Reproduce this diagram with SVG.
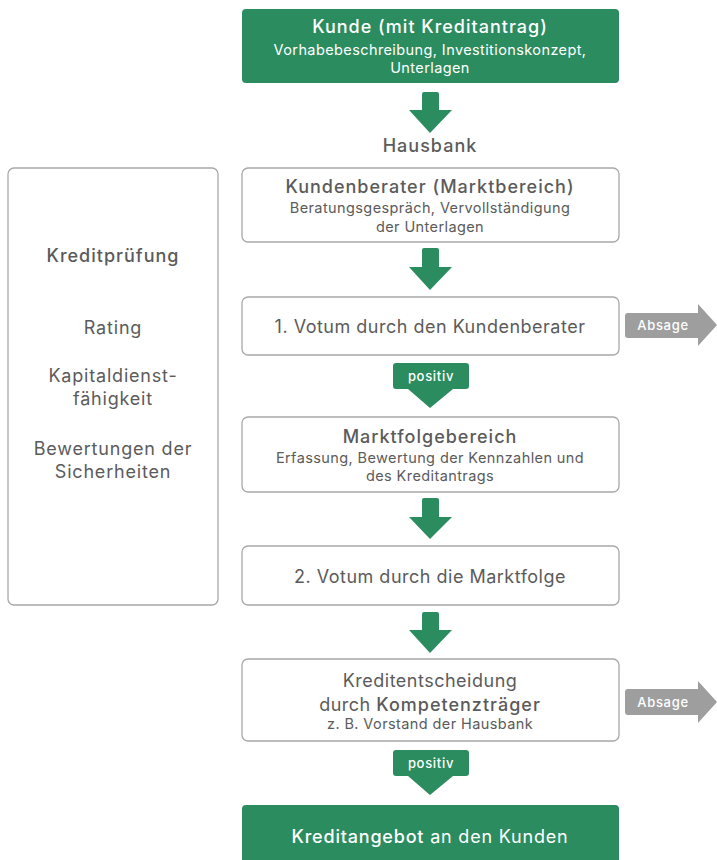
<svg xmlns="http://www.w3.org/2000/svg" width="717" height="860" viewBox="0 0 717 860">
<defs>
<style>
text{font-family:Inter,"Liberation Sans",sans-serif;text-anchor:middle;fill:#5b5b5b}
.box{fill:#fff;stroke:#a8a8a8;stroke-width:1.3}
.gbox{fill:#2b8c5f}
.arr{fill:#2b8c5f}
.abs{fill:#9e9e9e}
.h{font-size:18px;font-weight:500;letter-spacing:1px}
.s{font-size:14.5px;letter-spacing:0.4px}
.m{font-size:18px;letter-spacing:0.5px}
.l{font-size:18px;letter-spacing:0.8px}
.w{fill:#fff}
.lbl{font-size:13px;font-weight:500;fill:#fff;letter-spacing:0.7px}
</style>
</defs>
<g id="kunde">
<rect class="gbox" x="242" y="9" width="377" height="74" rx="4"/>
<text class="h w" x="430" y="33">Kunde (mit Kreditantrag)</text>
<text class="s w" x="430" y="55">Vorhabebeschreibung, Investitionskonzept,</text>
<text class="s w" x="430" y="73">Unterlagen</text>
</g>
<g id="hausbank">
<text class="h" x="430" y="152">Hausbank</text>
</g>
<g id="kreditpruefung">
<rect class="box" x="8" y="168" width="210" height="437" rx="6"/>
<text class="h" x="113" y="262">Kreditprüfung</text>
<text class="l" x="113" y="334">Rating</text>
<text class="l" x="113" y="382">Kapitaldienst-</text>
<text class="l" x="113" y="405">fähigkeit</text>
<text class="l" x="113" y="455">Bewertungen der</text>
<text class="l" x="113" y="478">Sicherheiten</text>
</g>
<g id="kundenberater">
<rect class="box" x="242" y="168" width="377" height="74" rx="6"/>
<text class="h" x="430" y="193">Kundenberater (Marktbereich)</text>
<text class="s" x="430" y="213">Beratungsgespräch, Vervollständigung</text>
<text class="s" x="430" y="232">der Unterlagen</text>
</g>
<g id="votum1">
<rect class="box" x="242" y="297" width="377" height="58" rx="6"/>
<text class="m" x="430" y="333">1. Votum durch den Kundenberater</text>
</g>
<g id="absage1">
<path class="abs" d="M628,313 H698 V304 L717,325 L698,346 V338 H628 Q625,338 625,335 V316 Q625,313 628,313 Z"/>
<text class="lbl" x="663" y="330">Absage</text>
</g>
<g id="marktfolge">
<rect class="box" x="242" y="417" width="377" height="75" rx="6"/>
<text class="h" x="430" y="443">Marktfolgebereich</text>
<text class="s" x="430" y="463">Erfassung, Bewertung der Kennzahlen und</text>
<text class="s" x="430" y="481">des Kreditantrags</text>
</g>
<g id="votum2">
<rect class="box" x="242" y="546" width="377" height="59" rx="6"/>
<text class="m" x="430" y="583">2. Votum durch die Marktfolge</text>
</g>
<g id="entscheidung">
<rect class="box" x="242" y="659" width="377" height="82" rx="6"/>
<text class="m" x="430" y="687">Kreditentscheidung</text>
<text class="m" x="430" y="711">durch <tspan style="font-weight:500;letter-spacing:1px">Kompetenzträger</tspan></text>
<text class="s" x="430" y="729">z. B. Vorstand der Hausbank</text>
</g>
<g id="absage2">
<path class="abs" d="M628,689 H698 V681 L717,702 L698,723 V715 H628 Q625,715 625,712 V692 Q625,689 628,689 Z"/>
<text class="lbl" x="663" y="707">Absage</text>
</g>
<g id="angebot">
<rect class="gbox" x="242" y="805" width="377" height="62" rx="4"/>
<text class="l w" x="430" y="843"><tspan style="font-weight:500">Kreditangebot</tspan> an den Kunden</text>
</g>
<g id="connectors">
<path class="arr" d="M424,92 H437 Q439,92 439,94 V110 H452 L430,133 L409,110 H422 V94 Q422,92 424,92 Z"/>
<path class="arr" d="M424,248 H437 Q439,248 439,250 V267 H452 L430,290 L409,267 H422 V250 Q422,248 424,248 Z"/>
<path class="arr" d="M396,363 H466 Q469,363 469,366 V386 Q469,389 466,389 H453 L430,408 L408,389 H396 Q393,389 393,386 V366 Q393,363 396,363 Z"/>
<text class="lbl" x="431" y="381">positiv</text>
<path class="arr" d="M424,498 H437 Q439,498 439,500 V517 H452 L430,539 L409,517 H422 V500 Q422,498 424,498 Z"/>
<path class="arr" d="M424,612 H437 Q439,612 439,614 V630 H452 L430,653 L409,630 H422 V614 Q422,612 424,612 Z"/>
<path class="arr" d="M396,750 H466 Q469,750 469,753 V773 Q469,776 466,776 H453 L430,795 L408,776 H396 Q393,776 393,773 V753 Q393,750 396,750 Z"/>
<text class="lbl" x="431" y="768">positiv</text>
</g>
</svg>
